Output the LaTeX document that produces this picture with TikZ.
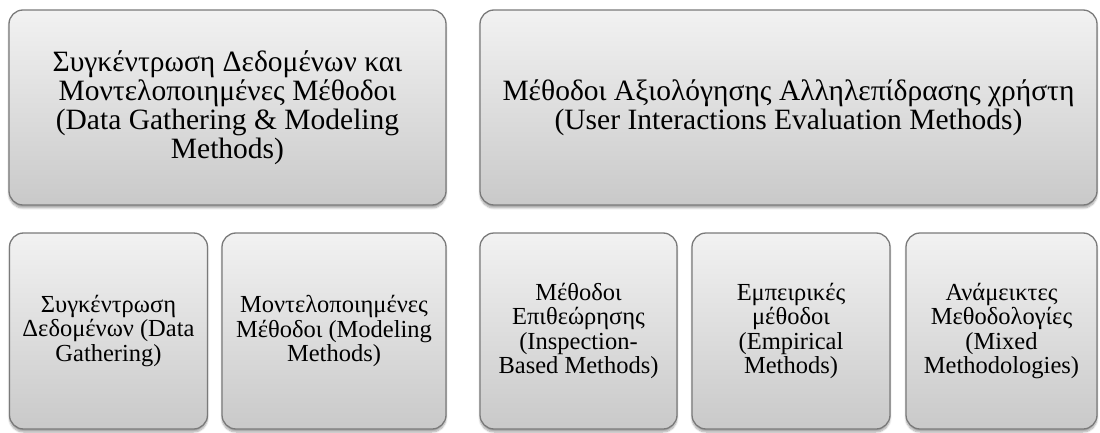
\documentclass[tikz,border=0pt]{standalone}
\usepackage{fontspec}
\setmainfont{Liberation Serif}
\usetikzlibrary{shadows.blur}
\definecolor{boxtop}{HTML}{F2F2F2}
\definecolor{boxbot}{HTML}{C9C9C9}
\definecolor{boxline}{HTML}{7A7A7A}
\tikzset{
  box/.style={draw=boxline, line width=1.3pt, rounded corners=14pt,
    top color=boxtop, bottom color=boxbot, inner sep=0pt, align=center,
    blur shadow={shadow xshift=0pt, shadow yshift=-3pt, shadow blur steps=6, shadow blur extra rounding=2pt, shadow opacity=35}},
  bigtext/.style={font=\fontsize{29.5pt}{29pt}\selectfont},
  smalltext/.style={font=\fontsize{24.5pt}{24.5pt}\selectfont}
}
\begin{document}
\begin{tikzpicture}[x=1pt,y=1pt]
\useasboundingbox (0,0) rectangle (1100,432);
\node[box, bigtext, minimum width=437pt, minimum height=195pt] (a) at (227.5,324.5)
  {Συγκέντρωση Δεδομένων και\\Μοντελοποιημένες Μέθοδοι\\(Data Gathering \& Modeling\\Methods)};
\node[box, bigtext, minimum width=617pt, minimum height=195pt] (b) at (788.5,324.5)
  {Μέθοδοι Αξιολόγησης Αλληλεπίδρασης χρήστη\\(User Interactions Evaluation Methods)};
\node[box, smalltext, minimum width=198pt, minimum height=196pt] (c1) at (108.5,101)
  {Συγκέντρωση\\Δεδομένων (Data\\Gathering)};
\node[box, smalltext, minimum width=224pt, minimum height=196pt] (c2) at (334,101)
  {Μοντελοποιημένες\\Μέθοδοι (Modeling\\Methods)};
\node[box, smalltext, minimum width=197pt, minimum height=196pt] (c3) at (578.5,101)
  {Μέθοδοι\\Επιθεώρησης\\(Inspection-\\Based Methods)};
\node[box, smalltext, minimum width=198pt, minimum height=196pt] (c4) at (791,101)
  {Εμπειρικές\\μέθοδοι\\(Empirical\\Methods)};
\node[box, smalltext, minimum width=191pt, minimum height=196pt] (c5) at (1001.5,101)
  {Ανάμεικτες\\Μεθοδολογίες\\(Mixed\\Methodologies)};
\end{tikzpicture}
\end{document}
